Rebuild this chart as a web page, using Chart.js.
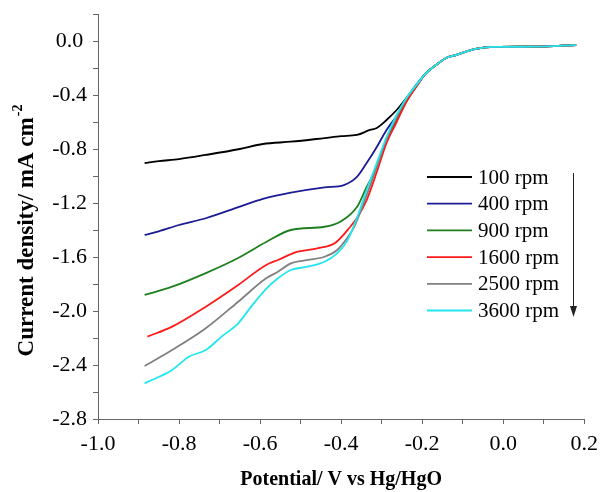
<!DOCTYPE html>
<html>
<head>
<meta charset="utf-8">
<script src="https://cdn.jsdelivr.net/npm/chart.js@4.4.0/dist/chart.umd.min.js"></script>
<style>
  body { margin: 0; background: #fff; }
</style>
</head>
<body>
<canvas id="myChart" width="605" height="492"></canvas>
<script>
// LSV curves (potential in V vs Hg/HgO, current density in mA cm-2)
var labels = ['100 rpm', '400 rpm', '900 rpm', '1600 rpm', '2500 rpm', '3600 rpm'];
var colors = ['#000000', '#1c1c94', '#1f7f1f', '#ff1a1a', '#808080', '#22e6ee'];

var pot100 = [-0.885, -0.85, -0.8, -0.734, -0.65, -0.593, -0.524, -0.441, -0.40, -0.361, -0.329, -0.312, -0.288, -0.263, -0.239, -0.215];
var cur100 = [-0.904, -0.89, -0.875, -0.844, -0.80, -0.763, -0.746, -0.719, -0.705, -0.696, -0.659, -0.644, -0.585, -0.511, -0.422, -0.326];

var pot400 = [-0.885, -0.85, -0.8, -0.734, -0.65, -0.593, -0.524, -0.441, -0.393, -0.361, -0.337, -0.312, -0.288, -0.263, -0.239, -0.215];
var cur400 = [-1.437, -1.41, -1.363, -1.313, -1.227, -1.170, -1.124, -1.084, -1.067, -1.007, -0.904, -0.785, -0.659, -0.556, -0.437, -0.333];

var pot900 = [-0.885, -0.817, -0.734, -0.654, -0.585, -0.524, -0.441, -0.402, -0.361, -0.337, -0.312, -0.288, -0.263, -0.239, -0.215];
var cur900 = [-1.881, -1.820, -1.719, -1.607, -1.489, -1.400, -1.376, -1.339, -1.230, -1.081, -0.933, -0.733, -0.585, -0.444, -0.341];

var pot1600 = [-0.878, -0.817, -0.734, -0.654, -0.585, -0.556, -0.507, -0.459, -0.415, -0.378, -0.361, -0.337, -0.312, -0.288, -0.263, -0.239, -0.215];
var cur1600 = [-2.190, -2.116, -1.968, -1.807, -1.659, -1.622, -1.561, -1.536, -1.496, -1.378, -1.311, -1.178, -0.970, -0.756, -0.600, -0.452, -0.341];

var pot2500 = [-0.885, -0.817, -0.734, -0.654, -0.585, -0.556, -0.524, -0.483, -0.441, -0.410, -0.385, -0.368, -0.337, -0.312, -0.288, -0.263, -0.239, -0.215];
var cur2500 = [-2.407, -2.289, -2.128, -1.931, -1.758, -1.709, -1.647, -1.622, -1.598, -1.548, -1.459, -1.378, -1.141, -0.933, -0.726, -0.563, -0.430, -0.333];

var pot3600 = [-0.885, -0.849, -0.817, -0.776, -0.734, -0.695, -0.654, -0.622, -0.585, -0.556, -0.524, -0.483, -0.441, -0.410, -0.385, -0.361, -0.337, -0.312, -0.288, -0.263, -0.239, -0.215];
var cur3600 = [-2.536, -2.487, -2.437, -2.339, -2.289, -2.190, -2.091, -1.968, -1.837, -1.758, -1.696, -1.672, -1.635, -1.573, -1.481, -1.311, -1.104, -0.904, -0.711, -0.548, -0.422, -0.326];

// all curves overlap after about -0.2 V
var potTail = [-0.19, -0.166, -0.141, -0.117, -0.068, -0.02, 0.078, 0.18];
var curTail = [-0.237, -0.178, -0.126, -0.104, -0.059, -0.044, -0.042, -0.030];

var potentials = [pot100, pot400, pot900, pot1600, pot2500, pot3600];
var currents = [cur100, cur400, cur900, cur1600, cur2500, cur3600];

function toPoints(xs, ys) {
    var pts = [];
    xs.concat(potTail).forEach(function (x, i) {
        pts.push({ x: x, y: ys.concat(curTail)[i] });
    });
    return pts;
}

var datasets = labels.map(function (lab, i) {
    return {
        label: lab,
        data: toPoints(potentials[i], currents[i]),
        borderColor: colors[i],
        borderWidth: 1.8,
        pointRadius: 0,
        fill: false,
        order: labels.length - i, // 3600 rpm drawn on top
        cubicInterpolationMode: 'monotone'
    };
});

var serif = 'Liberation Serif, Times New Roman, serif';

// y title with superscript and the in-plot legend with arrow
var extras = {
    id: 'extras',
    afterDraw: function (chart) {
        var ctx = chart.ctx;
        ctx.save();
        ctx.fillStyle = '#000';
        ctx.translate(27, 231);
        ctx.rotate(-Math.PI / 2);
        ctx.font = 'bold 23px ' + serif;
        var main = 'Current density/ mA cm';
        var w1 = ctx.measureText(main).width;
        ctx.font = 'bold 14px ' + serif;
        var w2 = ctx.measureText('-2').width;
        var x0 = -(w1 + w2) / 2;
        ctx.textBaseline = 'middle';
        ctx.font = 'bold 23px ' + serif;
        ctx.fillText(main, x0, 0);
        ctx.font = 'bold 14px ' + serif;
        ctx.fillText('-2', x0 + w1 + 1, -9);
        ctx.restore();

        ctx.save();
        ctx.font = '21px ' + serif;
        ctx.textBaseline = 'middle';
        chart.data.datasets.forEach(function (ds, i) {
            var y = 177 + i * 26.7;
            ctx.strokeStyle = ds.borderColor;
            ctx.lineWidth = 1.8;
            ctx.beginPath();
            ctx.moveTo(427, y);
            ctx.lineTo(472, y);
            ctx.stroke();
            ctx.fillStyle = '#000';
            ctx.fillText(ds.label, 478, y + 1);
        });
        ctx.strokeStyle = '#222';
        ctx.lineWidth = 1;
        ctx.beginPath();
        ctx.moveTo(573.5, 173);
        ctx.lineTo(573.5, 308);
        ctx.stroke();
        ctx.fillStyle = '#222';
        ctx.beginPath();
        ctx.moveTo(570, 306);
        ctx.lineTo(577, 306);
        ctx.lineTo(573.5, 317);
        ctx.closePath();
        ctx.fill();
        ctx.restore();
    }
};

var ctx = document.getElementById('myChart').getContext('2d');
var myChart = new Chart(ctx, {
    type: 'line',
    data: { datasets: datasets },
    plugins: [extras],
    options: {
        responsive: false,
        animation: false,
        layout: { padding: { left: 0, top: 14, right: 16, bottom: 0 } },
        plugins: {
            legend: { display: false },
            tooltip: { enabled: false }
        },
        scales: {
            x: {
                type: 'linear',
                min: -1.0,
                max: 0.2,
                border: { color: '#666', width: 1 },
                grid: { drawOnChartArea: false, drawTicks: true, tickLength: 5, tickColor: '#666' },
                ticks: {
                    stepSize: 0.1,
                    autoSkip: false,
                    maxRotation: 0,
                    padding: 7,
                    color: '#000',
                    font: { family: serif, size: 22 },
                    callback: function (v) {
                        var n = Math.round(v * 10);
                        if (n % 2 !== 0) return '';
                        return (Math.abs(v) < 1e-9 ? 0 : v).toFixed(1);
                    }
                },
                title: {
                    display: true,
                    text: 'Potential/ V vs Hg/HgO',
                    color: '#000',
                    font: { family: serif, size: 20, weight: 'bold' },
                    padding: { top: 0, bottom: 0 }
                },
                afterFit: function (scale) { scale.height = 73; }
            },
            y: {
                type: 'linear',
                min: -2.8,
                max: 0.2,
                border: { color: '#666', width: 1 },
                grid: { drawOnChartArea: false, drawTicks: true, tickLength: 5, tickColor: '#666' },
                ticks: {
                    stepSize: 0.2,
                    autoSkip: false,
                    crossAlign: 'center',
                    padding: 6,
                    color: '#000',
                    font: { family: serif, size: 22 },
                    callback: function (v) {
                        var n = Math.round(v * 10);
                        if (n % 4 !== 0) return '';
                        return (Math.abs(v) < 1e-9 ? 0 : v).toFixed(1);
                    }
                },
                afterFit: function (scale) {
                    scale.width = 98;
                    scale.paddingTop = 0;
                    scale.paddingBottom = 0;
                }
            }
        }
    }
});
</script>
</body>
</html>
